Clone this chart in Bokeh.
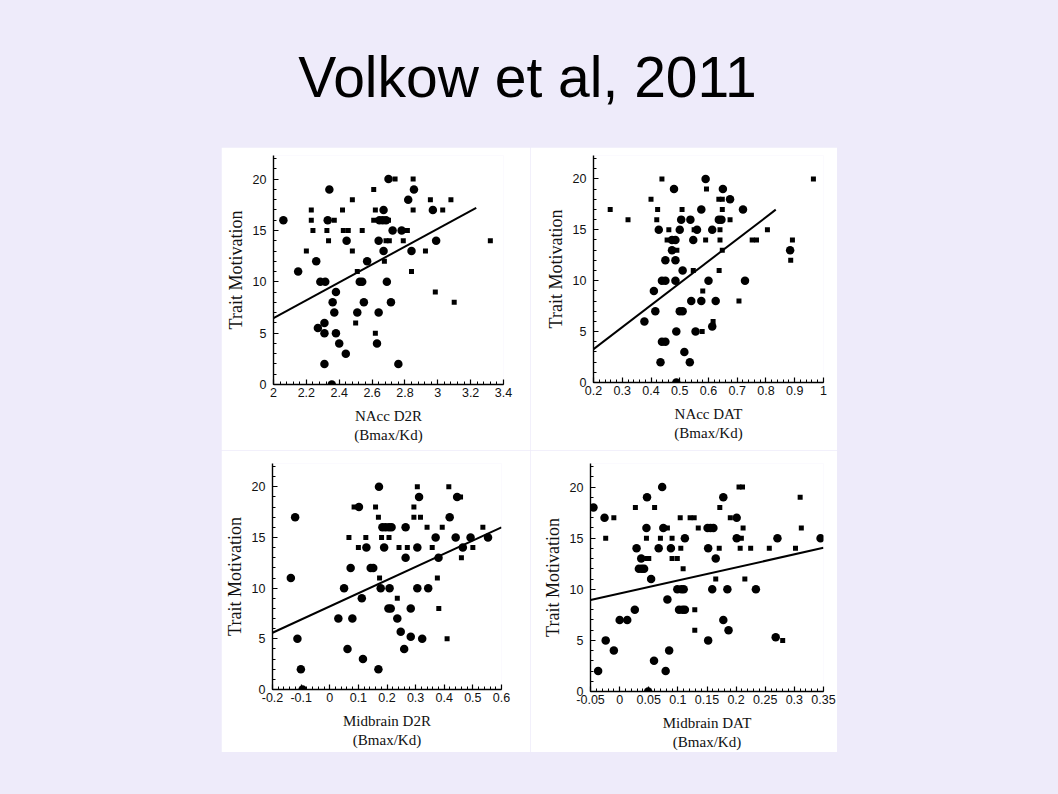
from bokeh.plotting import figure
from bokeh.layouts import column, row
from bokeh.models import Range1d, SingleIntervalTicker, CustomJSTickFormatter
from bokeh.core.properties import value
from bokeh.embed import file_html
from bokeh.resources import INLINE

title_text = "Volkow et al, 2011"
y_label = "Trait Motivation"

# ---- Panel 1: NAcc D2R ----
nacc_d2r_circ_x = [2.06, 2.15, 2.26, 2.34, 2.33, 2.285, 2.315, 2.38, 2.36, 2.37, 2.27, 2.31, 2.31, 2.38, 2.40, 2.44, 2.31, 2.355,
                   2.445, 2.51, 2.525, 2.54, 2.55, 2.57, 2.64, 2.64, 2.63, 2.67, 2.645, 2.665, 2.685, 2.67, 2.69, 2.70, 2.715,
                   2.725, 2.76, 2.78, 2.82, 2.855, 2.84, 2.97, 2.99]
nacc_d2r_circ_y = [16, 11, 12, 19, 16, 10, 10, 9, 8, 7, 5.5, 6, 5, 5, 4, 3, 2, 0,
                   14, 7, 10, 10, 8, 12, 14, 7, 4, 17, 16, 16, 16, 13, 10, 20, 8,
                   15, 2, 15, 18, 19, 13, 17, 14]
nacc_d2r_sq_x = [2.23, 2.23, 2.24, 2.20, 2.325, 2.335, 2.37, 2.42, 2.425, 2.455, 2.48, 2.48, 2.51, 2.54, 2.50, 2.61, 2.62,
                 2.61, 2.62, 2.70, 2.675, 2.685, 2.705, 2.74, 2.80, 2.815, 2.79, 2.85, 2.85, 2.84, 2.925, 2.955, 2.985,
                 3.03, 3.08, 3.10, 3.32]
nacc_d2r_sq_y = [17, 16, 15, 13, 15, 14, 16, 17, 15, 15, 13, 18, 11, 15, 6, 19, 17,
                 16, 5, 16, 12, 14, 14, 20, 15, 15, 14, 20, 17, 11, 13, 18, 9,
                 17, 18, 8, 14]
nacc_d2r_fit_x = [2.0, 3.234]
nacc_d2r_fit_y = [6.47, 17.2]

# ---- Panel 2: NAcc DAT ----
nacc_dat_circ_x = [0.48, 0.59, 0.65, 0.675, 0.575, 0.72, 0.505, 0.537, 0.636, 0.645, 0.427, 0.50, 0.56, 0.613, 0.473,
                   0.485, 0.547, 0.473, 0.884, 0.45, 0.485, 0.51, 0.438, 0.45, 0.485, 0.60, 0.727, 0.41, 0.54, 0.575,
                   0.625, 0.415, 0.50, 0.51, 0.377, 0.613, 0.488, 0.555, 0.438, 0.45, 0.516, 0.433, 0.535, 0.488]
nacc_dat_circ_y = [19, 20, 19, 18, 17, 17, 16, 16, 16, 16, 15, 15, 15, 15, 14,
                   14, 14, 13, 13, 12, 12, 11, 10, 10, 10, 10, 10, 9, 8, 8,
                   8, 7, 7, 7, 6, 5.5, 5, 5, 4, 4, 3, 2, 2, 0]
nacc_dat_sq_x = [0.258, 0.32, 0.40, 0.423, 0.42, 0.438, 0.462, 0.456, 0.508, 0.593, 0.59, 0.58, 0.578, 0.547, 0.55,
                 0.636, 0.648, 0.648, 0.64, 0.64, 0.637, 0.648, 0.675, 0.616, 0.706, 0.752, 0.767, 0.805, 0.886,
                 0.892, 0.965, 0.49]
nacc_dat_sq_y = [17, 16, 18, 17, 16, 20, 15, 14, 17, 19, 14, 9, 5, 11, 15,
                 18, 18, 17, 15, 14, 11, 13, 16, 6, 8, 14, 14, 15, 12,
                 14, 20, 13]
nacc_dat_fit_x = [0.2, 0.834]
nacc_dat_fit_y = [3.28, 16.98]

# ---- Panel 3: Midbrain D2R ----
mid_d2r_circ_x = [-0.121, -0.136, -0.113, -0.101, -0.095, 0.03, 0.05, 0.062, 0.073, 0.079, 0.102, 0.112, 0.116, 0.128,
                  0.143, 0.152, 0.172, 0.17, 0.178, 0.19, 0.184, 0.195, 0.207, 0.216, 0.205, 0.213, 0.209, 0.236,
                  0.248, 0.26, 0.265, 0.265, 0.283, 0.283, 0.306, 0.306, 0.312, 0.323, 0.344, 0.37, 0.38, 0.419,
                  0.44, 0.445, 0.465, 0.492, 0.553]
mid_d2r_circ_y = [17, 11, 5, 2, 0, 7, 10, 4, 12, 7, 18, 9, 3, 14,
                  12, 12, 20, 2, 10, 14, 16, 16, 16, 16, 8, 8, 10, 7,
                  5.7, 4, 16, 13, 8, 5.2, 14, 10, 19, 5, 10, 15, 13, 17,
                  15, 19, 14, 15, 15]
mid_d2r_sq_x = [0.067, 0.085, 0.10, 0.126, 0.16, 0.17, 0.174, 0.181, 0.207, 0.236, 0.242, 0.271, 0.294, 0.294, 0.306,
                0.317, 0.34, 0.358, 0.376, 0.381, 0.393, 0.41, 0.416, 0.457, 0.46, 0.50, 0.535]
mid_d2r_sq_y = [15, 18, 14, 15, 18, 17, 11, 15, 15, 9, 14, 14, 18, 17, 20,
                17, 16, 14, 11, 8, 16, 5, 20, 19, 13, 14, 16]
mid_d2r_fit_x = [-0.2, 0.6]
mid_d2r_fit_y = [5.6, 16.0]

# ---- Panel 4: Midbrain DAT ----
mid_dat_circ_x = [-0.045, -0.037, -0.026, -0.024, -0.01, 0.0, 0.013, 0.026, 0.029, 0.033, 0.038, 0.042, 0.037, 0.046,
                  0.047, 0.049, 0.054, 0.059, 0.067, 0.073, 0.075, 0.079, 0.082, 0.085, 0.088, 0.099, 0.106, 0.110,
                  0.102, 0.108, 0.112, 0.112, 0.151, 0.156, 0.161, 0.152, 0.152, 0.159, 0.165, 0.178, 0.178, 0.185,
                  0.187, 0.201, 0.201, 0.234, 0.268, 0.271, 0.345]
mid_dat_circ_y = [18, 2, 17, 5, 4, 7, 7, 8, 14, 12, 12, 12, 13, 16,
                  19, 0, 11, 3, 14, 20, 16, 2, 9, 4, 14, 10, 10, 10,
                  8, 8, 8, 15, 16, 16, 16, 14, 5, 10, 13, 19, 7, 10,
                  6, 17, 15, 10, 5.3, 15, 15]
mid_dat_sq_x = [-0.024, -0.01, 0.027, 0.046, 0.047, 0.05, 0.06, 0.07, 0.082, 0.09, 0.099, 0.09, 0.104, 0.105, 0.109,
                0.121, 0.128, 0.129, 0.129, 0.135, 0.165, 0.172, 0.171, 0.19, 0.205, 0.211, 0.207, 0.209, 0.212,
                0.215, 0.225, 0.257, 0.28, 0.302, 0.31, 0.312]
mid_dat_sq_y = [15, 17, 18, 15, 13, 13, 18, 15, 16, 13, 13, 15, 17, 14, 12,
                17, 17, 8, 6, 16, 11, 18, 14, 17, 20, 20, 14, 15, 16,
                11, 14, 14, 5, 14, 19, 16]
mid_dat_fit_x = [-0.05, 0.35]
mid_dat_fit_y = [8.95, 14.05]

BG = "#eeebfa"
SERIF = "Liberation Serif"
SANS = "Liberation Sans"


def make_panel(fw, fh, bl, br, bt, bb, xr, xint, cx, cy, sx, sy, fx, fy, xlabel):
    pad = 1e-4
    p = figure(frame_width=fw, frame_height=fh, x_range=Range1d(xr[0] - pad, xr[1] + pad), y_range=Range1d(0, 22.3),
               output_backend="svg", toolbar_location=None, title=None,
               min_border_left=bl, min_border_right=br, min_border_top=bt, min_border_bottom=bb)
    p.background_fill_color = "white"
    p.border_fill_color = "white"
    p.outline_line_color = None
    p.grid.visible = False
    p.xaxis.ticker = SingleIntervalTicker(interval=xint, num_minor_ticks=5)
    p.yaxis.ticker = SingleIntervalTicker(interval=5, num_minor_ticks=5)
    p.xaxis.formatter = CustomJSTickFormatter(code="return String(parseFloat(tick.toFixed(4)));")
    for ax in (p.xaxis[0], p.yaxis[0]):
        ax.axis_line_color = "black"
        ax.axis_line_width = 1.4
        ax.major_tick_line_color = "black"
        ax.minor_tick_line_color = "black"
        ax.major_tick_line_width = 1.2
        ax.minor_tick_line_width = 1.0
        ax.major_tick_in = 5
        ax.major_tick_out = 0
        ax.minor_tick_in = 3
        ax.minor_tick_out = 0
        ax.major_label_text_font = SANS
        ax.major_label_text_font_size = "12.5px"
        ax.major_label_text_color = "#111111"
        ax.axis_label_text_font = SERIF
        ax.axis_label_text_font_style = "normal"
        ax.axis_label_text_color = "#111111"
    p.xaxis.axis_label = xlabel
    p.xaxis.axis_label_text_font_size = "15px"
    p.xaxis.major_label_standoff = 3
    p.xaxis.axis_label_standoff = 8
    p.yaxis.axis_label = y_label
    p.yaxis.axis_label_text_font_size = "18px"
    p.yaxis.major_label_standoff = 7
    p.yaxis.axis_label_standoff = 4
    p.line(fx, fy, line_color="black", line_width=2)
    p.scatter(sx, sy, marker="square", size=5, fill_color="black", line_color="black", line_width=0)
    p.scatter(cx, cy, marker="circle", size=8.5, fill_color="black", line_color="black", line_width=0)
    return p


def blank(w, h):
    b = figure(width=w, height=h, x_range=Range1d(0, 1), y_range=Range1d(0, 1), output_backend="svg",
               toolbar_location=None, x_axis_type=None, y_axis_type=None, min_border=0, title=None)
    b.grid.visible = False
    b.outline_line_color = None
    b.background_fill_color = BG
    b.border_fill_color = BG
    return b


# frame sizes and borders (pixels); the 2x2 block starts at (221, 147)
p1 = make_panel(230, 229, 52, 27, 8, 66, (2.0, 3.4), 0.2,
                nacc_d2r_circ_x, nacc_d2r_circ_y, nacc_d2r_sq_x, nacc_d2r_sq_y,
                nacc_d2r_fit_x, nacc_d2r_fit_y, "NAcc D2R\n(Bmax/Kd)")
p2 = make_panel(230, 227, 63, 14, 5, 71, (0.2, 1.0), 0.1,
                nacc_dat_circ_x, nacc_dat_circ_y, nacc_dat_sq_x, nacc_dat_sq_y,
                nacc_dat_fit_x, nacc_dat_fit_y, "NAcc DAT\n(Bmax/Kd)")
p3 = make_panel(229, 226, 51, 29, 13, 63, (-0.2, 0.6), 0.1,
                mid_d2r_circ_x, mid_d2r_circ_y, mid_d2r_sq_x, mid_d2r_sq_y,
                mid_d2r_fit_x, mid_d2r_fit_y, "Midbrain D2R\n(Bmax/Kd)")
p4 = make_panel(233, 228, 60, 14, 13, 61, (-0.05, 0.35), 0.05,
                mid_dat_circ_x, mid_dat_circ_y, mid_dat_sq_x, mid_dat_sq_y,
                mid_dat_fit_x, mid_dat_fit_y, "Midbrain DAT\n(Bmax/Kd)")

# Title strip
tp = blank(1042, 147)
tp.x_range = Range1d(0, 1042)
tp.y_range = Range1d(0, 147)
tp.text(x=[527], y=[70.5], text=[title_text], text_font=value(SANS), text_font_size="57px",
        text_align="center", text_baseline="middle", text_color="black")

grid = column(row(p1, p2), row(p3, p4))
middle = row(blank(221, 605), grid, blank(205, 605))
layout = column(tp, middle, blank(1042, 26))

html = file_html(layout, INLINE)
style = "<style>html,body{margin:0;padding:0;background-color:%s;}</style>" % BG
html = html.replace("</head>", style + "</head>", 1)
open("out.html", "w").write(html)
